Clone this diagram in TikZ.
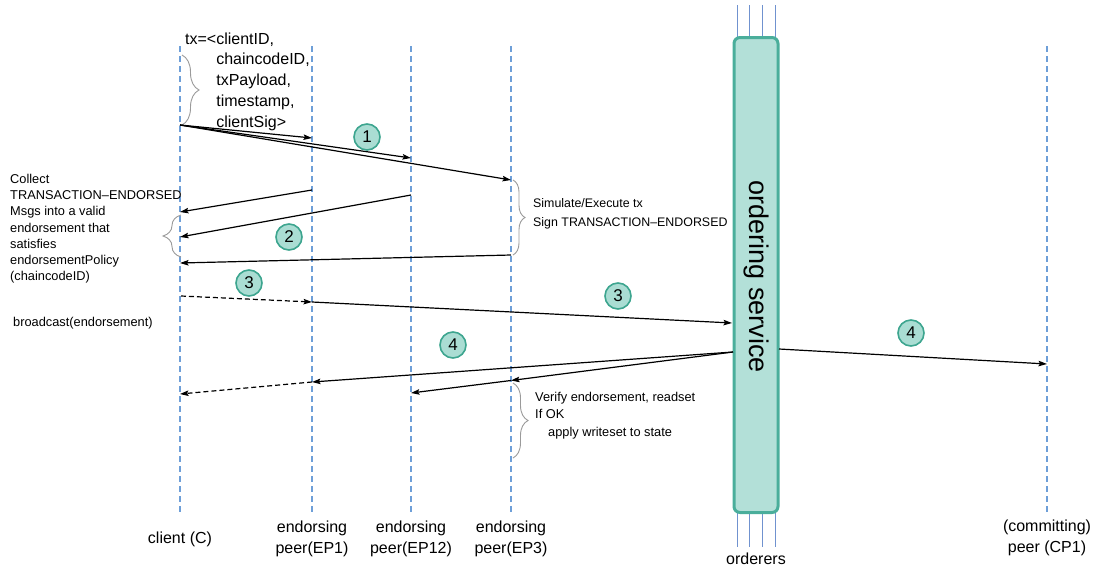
\documentclass[tikz,border=0pt]{standalone}
\usepackage{fontspec}
\setmainfont{Liberation Sans}
\usetikzlibrary{arrows.meta,decorations.pathreplacing}

\definecolor{lifeblue}{HTML}{6E9FD8}
\definecolor{tealfill}{HTML}{AADDD3}
\definecolor{tealline}{HTML}{3DA58F}
\definecolor{ordfill}{HTML}{B3E0D8}
\definecolor{ordline}{HTML}{4AAE9B}
\definecolor{bracegray}{HTML}{9A9A9A}
\definecolor{ordpin}{HTML}{7092CF}

\begin{document}
\begin{tikzpicture}[x=1pt,y=-1pt,
  lifeline/.style={draw=lifeblue, line width=1.2pt, dash pattern=on 6pt off 4pt},
  msg/.style={line width=1.2pt, -{Stealth[length=8.5pt,width=5.5pt,inset=1.5pt]}},
  msgdash/.style={msg, dash pattern=on 5pt off 3pt},
  stepnum/.style={circle, draw=tealline, fill=tealfill, line width=1.6pt,
    minimum size=26pt, inner sep=0pt, font=\fontsize{17}{17}\selectfont},
  gbrace/.style={draw=bracegray, line width=0.9pt, decorate,
    decoration={brace, amplitude=#1}},
  lbl/.style={align=center, font=\fontsize{16}{21}\selectfont},
  % multi-line notes: the base anchor sits on the last line
  smalltext/.style={align=left, inner sep=0pt, anchor=base west,
    font=\fontsize{12.8}{#1}\selectfont},
  orderpin/.style={draw=ordpin, line width=1pt}
]
\useasboundingbox (0,0) rectangle (1101,574);

% ---- lifelines ----
\coordinate (C-top)   at (180,46);  \coordinate (C-bot)   at (180,512);
\coordinate (E1-top)  at (312,46);  \coordinate (E1-bot)  at (312,512);
\coordinate (E12-top) at (411,46);  \coordinate (E12-bot) at (411,512);
\coordinate (E3-top)  at (511,46);  \coordinate (E3-bot)  at (511,512);
\coordinate (P1-top)  at (1047,46); \coordinate (P1-bot)  at (1047,513);
\foreach \l in {C,E1,E12,E3,P1}
  \draw[lifeline] (\l-top) -- (\l-bot);

% ---- ordering service ----
\foreach \x in {737,749.5,762,775} {
  \draw[orderpin] (\x,5) -- (\x,38);
  \draw[orderpin] (\x,512) -- (\x,547);
}
\node[draw=ordline, fill=ordfill, line width=3pt, rounded corners=6pt,
      minimum width=44pt, minimum height=475pt, inner sep=0pt] (OS) at (756,275) {};
\node[rotate=-90, font=\fontsize{27}{27}\selectfont] (OSlabel) at (756,277) {ordering service};
\node[font=\fontsize{16}{16}\selectfont] (ord) at (756,559) {orderers};

% ---- participant labels ----
\node[lbl] (Clbl)   at (180,539)   {client (C)};
\node[lbl] (E1lbl)  at (312,539)   {endorsing\\peer(EP1)};
\node[lbl] (E12lbl) at (411,539)   {endorsing\\peer(EP12)};
\node[lbl] (E3lbl)  at (511,539)   {endorsing\\peer(EP3)};
\node[lbl] (P1lbl)  at (1047,538)  {(committing)\\peer (CP1)};

% ---- transaction proposal ----
\node[align=left, inner sep=0pt, anchor=base west,
      font=\fontsize{16}{20.8}\selectfont] (txtext) at (185,127.2)
  {tx=<clientID,\\
   \phantom{tx=<}chaincodeID,\\
   \phantom{tx=<}txPayload,\\
   \phantom{tx=<}timestamp,\\
   \phantom{tx=<}clientSig>};
\coordinate (txb-top) at (182,55);
\coordinate (txb-bot) at (182,125);
\draw[gbrace=17pt] (txb-top) -- (txb-bot);

% step 1: client sends proposal to the endorsers
\coordinate (c1)   at (180,125);
\coordinate (e1a)  at (312,138);
\coordinate (e12a) at (411,158);
\coordinate (e3a)  at (511,180);
\draw[msg] (c1) -- (e1a);
\draw[msg] (c1) -- (e12a);
\draw[msg] (c1) -- (e3a);
\node[stepnum] (s1) at (367,137) {1};

% endorser simulation note
\coordinate (e3b-top) at (513,180);
\coordinate (e3b-bot) at (513,255);
\draw[gbrace=12pt] (e3b-top) -- (e3b-bot);
\node[smalltext=18.4, font=\fontsize{12.4}{18.4}\selectfont] (simtext) at (533,226)
  {Simulate/Execute tx\\Sign TRANSACTION–ENDORSED};

% step 2: endorsements come back
\coordinate (e1b)  at (312,190);  \coordinate (cb1) at (180,212);
\coordinate (e12b) at (411,195);  \coordinate (cb2) at (180,237);
\coordinate (e3b)  at (511,255);  \coordinate (cb3) at (180,263);
\draw[msg] (e1b) -- (cb1);
\draw[msg] (e12b) -- (cb2);
\draw[msg] (e3b) -- (cb3);
\node[stepnum] (s2) at (289,237) {2};

\coordinate (cb-bot) at (181,257);
\coordinate (cb-top) at (181,215);
\draw[gbrace=18pt] (cb-bot) -- (cb-top);
\node[smalltext=16.2] (collect) at (10,280.7)
  {Collect\\TRANSACTION–ENDORSED\\Msgs into a valid\\endorsement that\\satisfies\\endorsementPolicy\\(chaincodeID)};

% step 3: broadcast to ordering service
\node[smalltext=16] (bcast) at (13,326.5) {broadcast(endorsement)};
\coordinate (c3)  at (181,296);
\coordinate (e1c) at (312,302);
\coordinate (os3) at (732,323);
\draw[msgdash] (c3) -- (e1c);
\draw[msg] (e1c) -- (os3);
\node[stepnum] (s3a) at (249,283) {3};
\node[stepnum] (s3b) at (618,296) {3};

% step 4: delivery of ordered transactions
\coordinate (os4l) at (733,352);
\coordinate (os4r) at (779,349);
\coordinate (p1d)  at (1047,364);
\coordinate (e1d)  at (312,382);
\coordinate (e3d)  at (511,380.5);
\coordinate (e12d) at (411,393);
\coordinate (cd)   at (180,394);
\draw[msg] (os4r) -- (p1d);
\draw[msg] (os4l) -- (e1d);
\draw[msg] (os4l) -- (e3d);
\draw[msg] (e3d) -- (e12d);
\draw[msgdash] (e1d) -- (cd);
\node[stepnum] (s4a) at (453,345) {4};
\node[stepnum] (s4b) at (911,333) {4};

% committing peer validation note
\coordinate (vb-top) at (513,383);
\coordinate (vb-bot) at (513,458);
\draw[gbrace=15pt] (vb-top) -- (vb-bot);
\node[smalltext=17.5] (verify) at (535,436)
  {Verify endorsement, readset\\If OK\\\hspace{13pt}apply writeset to state};
\end{tikzpicture}
\end{document}
